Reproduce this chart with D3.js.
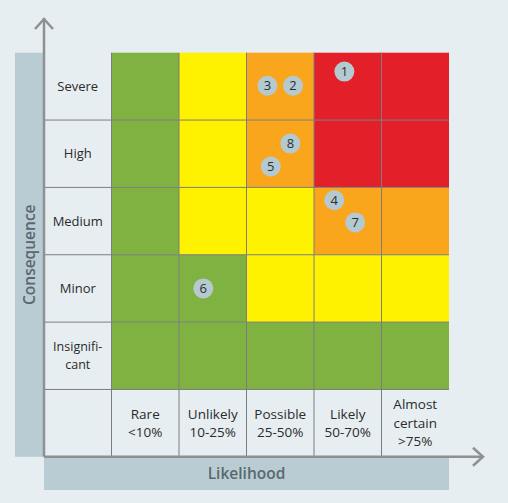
<!DOCTYPE html>
<html><head><meta charset="utf-8">
<script src="https://cdn.jsdelivr.net/npm/d3@7"></script>
<style>
html,body{margin:0;padding:0;background:#e7eef1;}
svg{display:block;font-family:"Open Sans",sans-serif;}
</style></head><body>
<svg id="chart" width="508" height="503"></svg>
<script>
// Data
const likelihood = ["Rare", "Unlikely", "Possible", "Likely", "Almost certain"];
const likelihoodLabels = [["Rare","<10%"],["Unlikely","10-25%"],["Possible","25-50%"],["Likely","50-70%"],["Almost","certain",">75%"]];
const consequence = ["Severe", "High", "Medium", "Minor", "Insignificant"];
const consequenceLabels = [["Severe"],["High"],["Medium"],["Minor"],["Insignifi-","cant"]];
// risk level per consequence row (top to bottom), per likelihood column
const riskLevels = [
  ["low","moderate","high","extreme","extreme"],
  ["low","moderate","high","extreme","extreme"],
  ["low","moderate","moderate","high","high"],
  ["low","low","moderate","moderate","moderate"],
  ["low","low","low","low","low"]
];
const riskNames = ["low","moderate","high","extreme"];
const riskColors = ["#80b241","#fff200","#f9a61c","#e31f2a"];
// risks: likelihood score (0-5) and consequence score (0-5, bottom to top)
const riskIds = [1,2,3,4,5,6,7,8];
const riskLikelihood = [3.45,2.69,2.31,3.30,2.36,1.36,3.61,2.65];
const riskConsequence = [4.72,4.51,4.51,2.81,3.31,1.50,2.48,3.65];

const svg = d3.select("#chart");
const gLeft = 44, gTop = 52.7, colW = 67.5, rowH = 67.35;
const gridRight = gLeft + colW*6, gridBottom = gTop + rowH*6;

const color = d3.scaleOrdinal().domain(riskNames).range(riskColors);
const x = d3.scaleBand().domain(likelihood).range([gLeft+colW, gridRight]);
const y = d3.scaleBand().domain(consequence).range([gTop, gTop+rowH*5]);
const xs = d3.scaleLinear().domain([0,5]).range([gLeft+colW, gridRight]);
const ys = d3.scaleLinear().domain([0,5]).range([gTop+rowH*5, gTop]);

// axis bars
svg.append("rect").attr("x",15).attr("y",gTop).attr("width",gLeft-15).attr("height",gridBottom-gTop).attr("fill","#b9ccd3");
svg.append("rect").attr("x",gLeft).attr("y",gridBottom).attr("width",gridRight-gLeft).attr("height",490-gridBottom).attr("fill","#b9ccd3");

// cells
const cells = [];
consequence.forEach((c,i)=>likelihood.forEach((l,j)=>cells.push({c,l,r:riskLevels[i][j]})));
svg.append("g").selectAll("rect").data(cells).join("rect")
  .attr("x",d=>x(d.l)).attr("y",d=>y(d.c))
  .attr("width",x.bandwidth()).attr("height",y.bandwidth())
  .attr("fill",d=>color(d.r));

// grid lines
const gl = svg.append("g").attr("stroke","#7a7e80").attr("stroke-width",1);
for(let j=1;j<6;j++){
  const xx = gLeft + colW*j;
  gl.append("line").attr("x1",xx).attr("x2",xx).attr("y1",gTop).attr("y2",gridBottom);
}
for(let i=1;i<6;i++){
  const yy = gTop + rowH*i;
  gl.append("line").attr("x1",gLeft).attr("x2",gridRight).attr("y1",yy).attr("y2",yy);
}

// axis arrows
const ag = svg.append("g").attr("stroke","#8e9193").attr("stroke-width",2.5).attr("fill","none").attr("stroke-linecap","butt");
ag.append("line").attr("x1",gLeft).attr("x2",gLeft).attr("y1",18).attr("y2",gridBottom);
ag.append("path").attr("d",`M${gLeft-9},${29} L${gLeft},${19} L${gLeft+9},${29}`);
ag.append("line").attr("x1",gLeft).attr("x2",483).attr("y1",gridBottom).attr("y2",gridBottom);
ag.append("path").attr("d",`M${473},${gridBottom-9} L${483},${gridBottom} L${473},${gridBottom+9}`);

function multiline(g, cx, cy, lines, lh){
  const t = g.append("text").attr("x",cx).attr("y",cy - (lines.length-1)/2*lh);
  lines.forEach((s,k)=>{
    t.append("tspan").attr("x",cx).attr("dy", k===0 ? "0.35em" : lh).text(s);
  });
}

// row labels
const rowG = svg.append("g").attr("fill","#2b2b2b").attr("font-size","13px").attr("text-anchor","middle");
consequence.forEach((c,i)=>{
  const lines = consequenceLabels[i];
  const g = lines.length > 1 ? rowG.append("g").attr("font-size","12.5px") : rowG;
  multiline(g, gLeft+colW/2, y(c)+y.bandwidth()/2, lines, 17.5);
});
// column labels
const colG = svg.append("g").attr("fill","#2b2b2b").attr("font-size","13.5px").attr("text-anchor","middle");
likelihood.forEach((l,j)=>{
  multiline(colG, x(l)+x.bandwidth()/2, gTop+rowH*5+rowH/2, likelihoodLabels[j], 18.5);
});

// axis titles
svg.append("text").attr("x",(gLeft+gridRight)/2).attr("y",473.5).attr("dy","0.35em")
  .attr("text-anchor","middle").attr("font-size","15.5px").attr("font-weight",600).attr("fill","#5a686e").text("Likelihood");
svg.append("text").attr("transform",`translate(30,${(gTop+gridBottom)/2}) rotate(-90)`).attr("dy","0.35em")
  .attr("text-anchor","middle").attr("font-size","15.5px").attr("font-weight",600).attr("fill","#5a686e").text("Consequence");

// risk points
const pts = riskIds.map((id,i)=>({id, l:riskLikelihood[i], c:riskConsequence[i]}));
const pg = svg.append("g").selectAll("g").data(pts).join("g")
  .attr("transform",d=>`translate(${xs(d.l)},${ys(d.c)})`);
pg.append("circle").attr("r",10).attr("fill","#b5c9d1");
pg.append("text").attr("text-anchor","middle").attr("dy","0.36em").attr("font-size","13px").attr("fill","#2b2f33").text(d=>d.id);
</script>
</body></html>
